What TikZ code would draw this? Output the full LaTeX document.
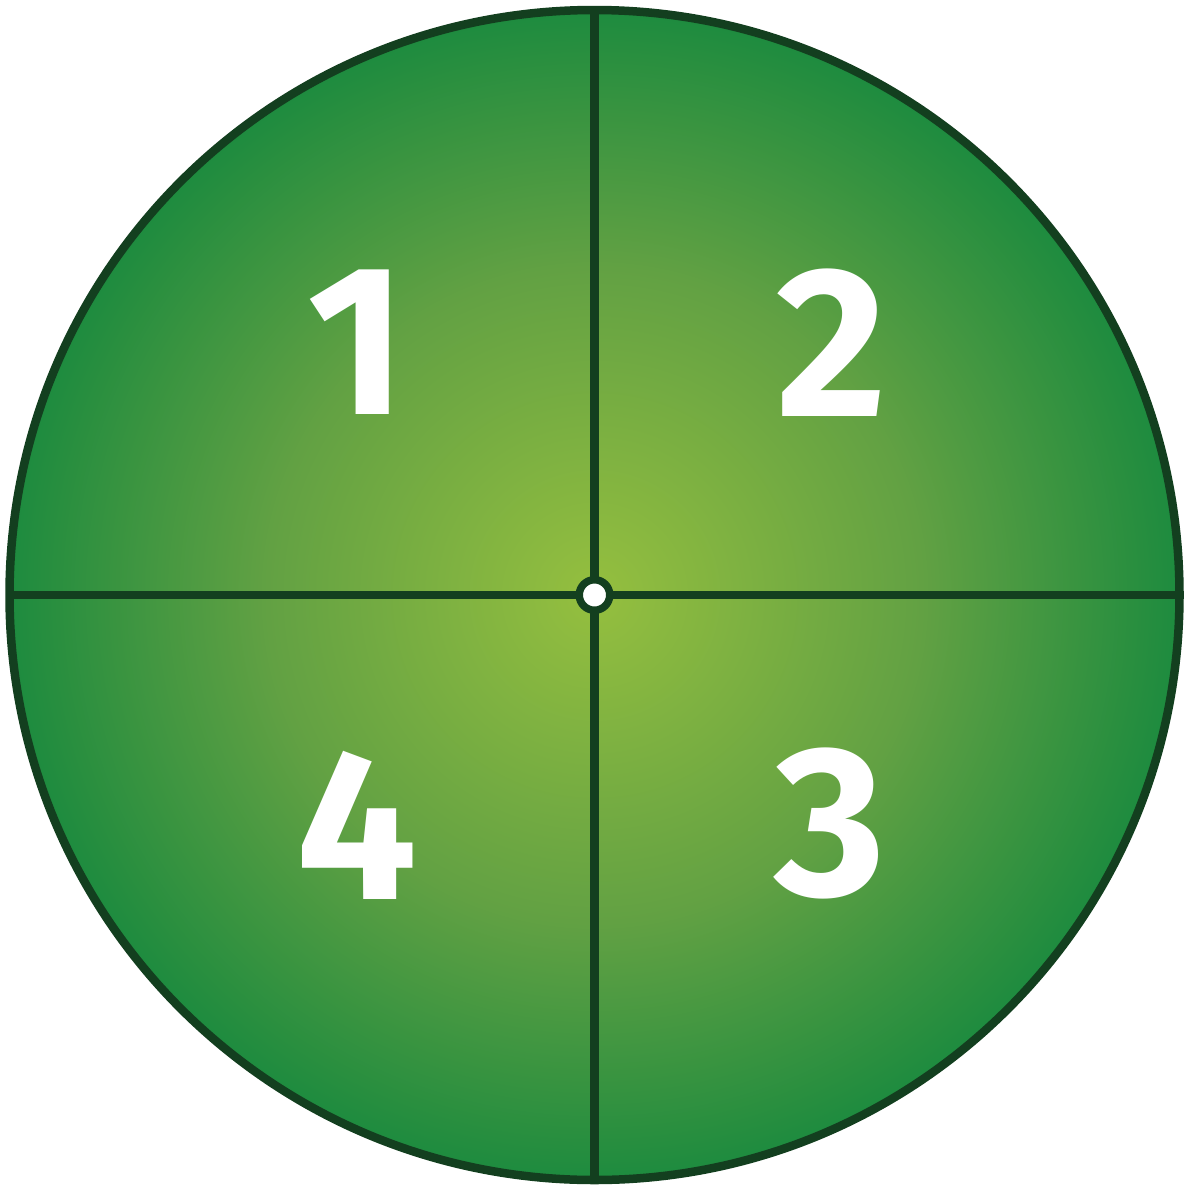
\documentclass[tikz,border=0pt]{standalone}
\usepackage{fontspec}
\setmainfont{Fira Sans}
\definecolor{cin}{HTML}{95BF3F}
\definecolor{cmid}{HTML}{62A143}
\definecolor{cout}{HTML}{17893E}
\definecolor{rim}{HTML}{133F1F}
\pgfdeclareradialshading{spinshade}{\pgfpoint{0bp}{0bp}}{color(0bp)=(cin); color(14bp)=(cmid); color(26bp)=(cout); color(50bp)=(cout)}
\tikzset{
  digit/.style={text=white, font=\fontsize{214}{214}\selectfont\bfseries, inner sep=0pt},
  rimline/.style={draw=rim, line width=8.5pt}
}
\begin{document}
\begin{tikzpicture}[x=1pt,y=-1pt]
\useasboundingbox (0,0) rectangle (1189,1186);
\coordinate (c) at (594.5,595);
\shade[shading=spinshade] (c) circle[radius=585];
\coordinate (t) at (594.5,10);
\coordinate (b) at (594.5,1180);
\coordinate (l) at (9.5,595);
\coordinate (r) at (1179.5,595);
\draw[rimline] (t) -- (b);
\draw[rimline] (l) -- (r);
\draw[rimline] (c) circle[radius=585];
\node[digit] (n1) at (357,342) {1};
\node[digit] (n2) at (832,343) {2};
\node[digit] (n3) at (830,823) {3};
\node[digit] (n4) at (357,825) {4};
\node[circle, fill=white, draw=rim, line width=7.5pt, minimum size=30.5pt, inner sep=0pt] (hub) at (c) {};
\end{tikzpicture}
\end{document}
